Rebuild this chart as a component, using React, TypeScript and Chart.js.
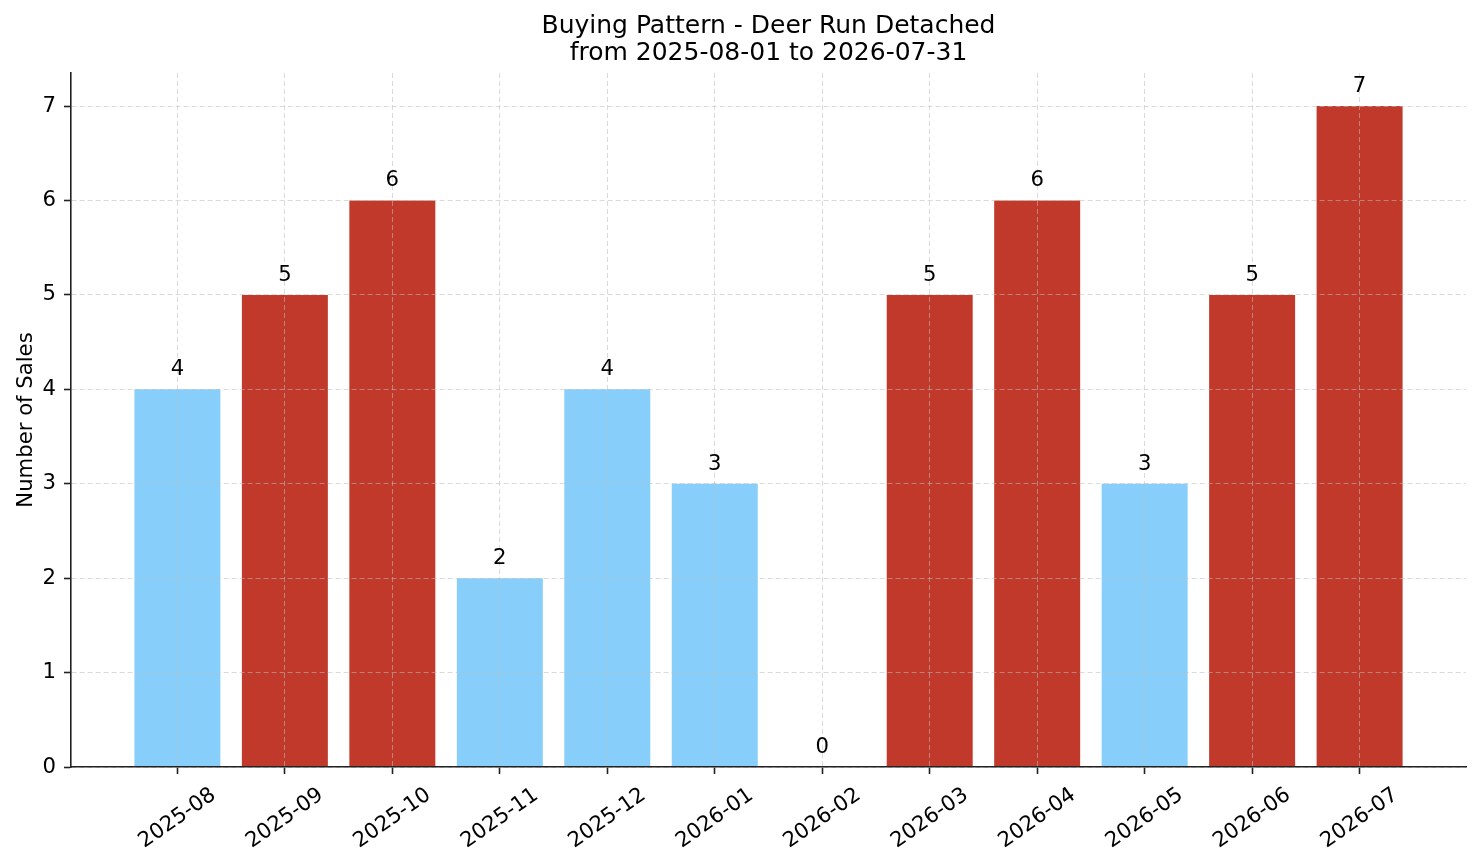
import React, { useEffect, useRef } from "react";
import { Chart, registerables } from "chart.js";

Chart.register(...registerables);

const TITLE_LINES = ["Buying Pattern - Deer Run Detached", "from 2025-08-01 to 2026-07-31"];
const Y_LABEL = "Number of Sales";
const MONTHS = [
  "2025-08", "2025-09", "2025-10", "2025-11", "2025-12", "2026-01",
  "2026-02", "2026-03", "2026-04", "2026-05", "2026-06", "2026-07",
];
const SALES = [4, 5, 6, 2, 4, 3, 0, 5, 6, 3, 5, 7];
const BLUE = "#87CEFA";
const RED = "#C0392B";
const BAR_COLORS = [BLUE, RED, RED, BLUE, BLUE, BLUE, BLUE, RED, RED, BLUE, RED, RED];
const Y_TICKS = [0, 1, 2, 3, 4, 5, 6, 7];

const FONT = '"DejaVu Sans", "Liberation Sans", sans-serif';
const TICK_SIZE = 21.2;
const TITLE_SIZE = 25;

const textPlugin = {
  id: "customText",
  afterDraw(chart: any) {
    const ctx = chart.ctx as CanvasRenderingContext2D;
    const area = chart.chartArea;
    const xScale = chart.scales.x;
    ctx.save();
    ctx.fillStyle = "#000";
    ctx.textAlign = "center";
    ctx.textBaseline = "alphabetic";

    // title
    ctx.font = `${TITLE_SIZE}px ${FONT}`;
    const cx = (area.left + area.right) / 2;
    ctx.fillText(TITLE_LINES[0], cx, 33);
    ctx.fillText(TITLE_LINES[1], cx, 60);

    // y axis label
    ctx.font = `${TICK_SIZE}px ${FONT}`;
    ctx.save();
    ctx.translate(32, (area.top + area.bottom) / 2);
    ctx.rotate(-Math.PI / 2);
    ctx.fillText(Y_LABEL, 0, 0);
    ctx.restore();

    // rotated x tick labels, centered on the tick
    const theta = (35 * Math.PI) / 180;
    const h = TICK_SIZE * 1.164;
    MONTHS.forEach((m, i) => {
      const x = xScale.getPixelForValue(i);
      const w = ctx.measureText(m).width;
      const bh = w * Math.sin(theta) + h * Math.cos(theta);
      const cy = area.bottom + 14.3 + bh / 2;
      ctx.save();
      ctx.translate(x - 1, cy);
      ctx.rotate(-theta);
      ctx.fillText(m, 0, 0.346 * TICK_SIZE);
      ctx.restore();
    });

    // value labels above bars
    const meta = chart.getDatasetMeta(0);
    meta.data.forEach((bar: any, i: number) => {
      ctx.fillText(String(SALES[i]), bar.x, bar.y - 14);
    });
    ctx.restore();
  },
};

const gridOpts = {
  color: "rgba(190,190,190,0.55)",
  lineWidth: 1,
  z: 1,
  offset: false,
  drawTicks: true,
  tickLength: 7,
  tickColor: "#222",
  tickWidth: 1.6,
  tickBorderDash: [],
};
const borderOpts = {
  display: true,
  color: "#222",
  width: 1.6,
  dash: [5, 3],
  z: 2,
};

export default function App() {
  const canvasRef = useRef<HTMLCanvasElement | null>(null);

  useEffect(() => {
    document.body.style.margin = "0";
    const canvas = canvasRef.current;
    if (!canvas) return;
    const chart = new Chart(canvas, {
      type: "bar",
      data: {
        datasets: [
          {
            data: SALES.map((v, i) => ({ x: i, y: v })),
            backgroundColor: BAR_COLORS,
            borderWidth: 0,
            barPercentage: 0.8,
            categoryPercentage: 1,
          },
        ],
      },
      options: {
        responsive: false,
        animation: false,
        devicePixelRatio: 1,
        layout: { padding: { top: 73, right: 15, left: 0, bottom: 0 } },
        plugins: {
          legend: { display: false },
          title: { display: false },
          tooltip: { enabled: false },
        },
        scales: {
          x: {
            type: "linear",
            min: -0.99,
            max: 11.99,
            offset: false,
            afterBuildTicks: (s: any) => {
              s.ticks = MONTHS.map((_, i) => ({ value: i }));
            },
            afterFit: (s: any) => {
              s.height = 96;
            },
            ticks: { display: false },
            grid: gridOpts,
            border: borderOpts,
          },
          y: {
            type: "linear",
            min: 0,
            max: 7.35,
            afterBuildTicks: (s: any) => {
              s.ticks = Y_TICKS.map((v) => ({ value: v }));
            },
            afterFit: (s: any) => {
              s.width = 71;
            },
            ticks: {
              font: { family: FONT, size: TICK_SIZE },
              color: "#000",
              padding: 8,
            },
            grid: gridOpts,
            border: borderOpts,
          },
        },
      } as any,
      plugins: [textPlugin],
    });
    return () => chart.destroy();
  }, []);

  return (
    <div style={{ width: 1481, height: 863 }}>
      <canvas ref={canvasRef} width={1481} height={863} style={{ display: "block" }} />
    </div>
  );
}
